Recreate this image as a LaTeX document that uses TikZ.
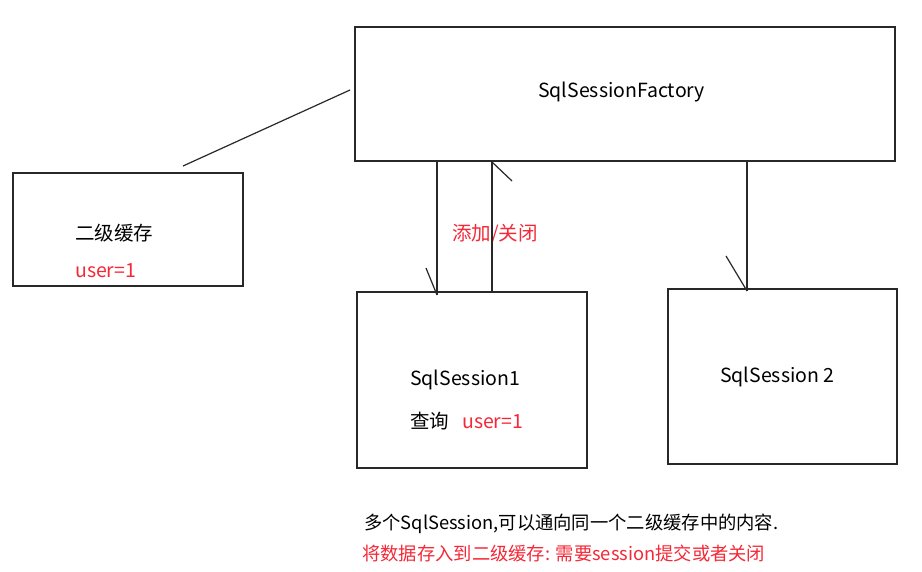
\documentclass[tikz,border=0pt]{standalone}
\usepackage{fontspec}
\setmainfont{Noto Sans CJK SC}
\definecolor{txtred}{RGB}{245,40,55}
\definecolor{linegray}{RGB}{40,40,40}
\begin{document}
\begin{tikzpicture}[x=1pt,y=-1pt,
  box/.style={draw=linegray,line width=1.2pt,inner sep=0pt,rectangle},
  conn/.style={draw=linegray,line width=1.2pt},
  lbl/.style={inner sep=0pt,anchor=base west,font=\fontsize{19.5}{23}\selectfont},
  redlbl/.style={lbl,text=txtred},
  foot/.style={inner sep=0pt,anchor=base west,font=\fontsize{18.3}{22}\selectfont},
  redfoot/.style={foot,text=txtred}]
\useasboundingbox[fill=white] (0,0) rectangle (922,571);
% boxes
\node[box,minimum width=540pt,minimum height=134pt] (fac) at (625,94) {};
\node[box,minimum width=230pt,minimum height=113pt] (cache) at (128,229.5) {};
\node[box,minimum width=230pt,minimum height=176pt] (s1) at (472,380) {};
\node[box,minimum width=229pt,minimum height=175pt] (s2) at (782.5,376.5) {};
% texts
\node[lbl] (tfac) at (538,97) {SqlSessionFactory};
\node[lbl] (tcache) at (75,240) {二级缓存};
\node[redlbl] (tcu) at (75,277) {user=1};
\node[redlbl] (tadd) at (452,240) {添加/关闭};
\node[lbl] (ts1) at (410,385) {SqlSession1};
\node[lbl] (tq) at (410,428) {查询};
\node[redlbl] (tqu) at (462,428) {user=1};
\node[lbl] (ts2) at (720,382) {SqlSession 2};
\node[foot] (tb1) at (364,529) {多个SqlSession,可以通向同一个二级缓存中的内容.};
\node[redfoot] (tb2) at (362,560) {将数据存入到二级缓存: 需要session提交或者关闭};
% connectors
\coordinate (la) at (183,166);
\coordinate (lb) at (350,90);
\draw[conn] (la) -- (lb);
\coordinate (d1) at (437,295);
\draw[conn] (fac.south -| d1) -- (d1);
\coordinate (h1) at (426,268);
\draw[conn] (h1) -- (d1);
\coordinate (u1) at (492,162);
\draw[conn] (s1.north -| u1) -- (u1);
\coordinate (h2) at (512,181);
\draw[conn] (u1) -- (h2);
\coordinate (d3) at (747,291);
\draw[conn] (fac.south -| d3) -- (d3);
\coordinate (h3) at (726,256);
\draw[conn] (h3) -- (d3);
\end{tikzpicture}
\end{document}
